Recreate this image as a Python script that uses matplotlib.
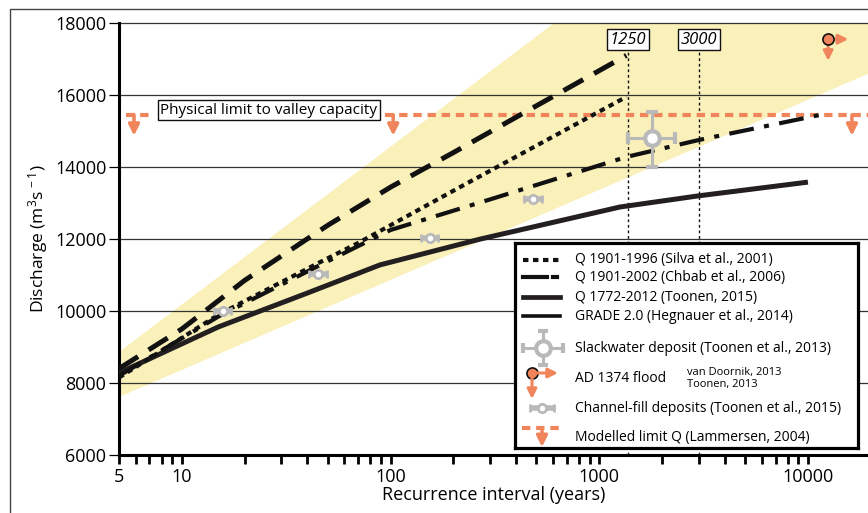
import matplotlib.pyplot as plt
import matplotlib.patches as mpatches
from matplotlib.ticker import FixedLocator, NullFormatter
import numpy as np

plt.rcParams['font.family'] = ['Open Sans', 'DejaVu Sans']
plt.rcParams['mathtext.fontset'] = 'custom'
plt.rcParams['mathtext.rm'] = 'Open Sans'
plt.rcParams['mathtext.it'] = 'Open Sans:italic'

# uncertainty envelope (straight in log-x)
band_x = [5, 20000]
band_lo = [7610, 16620]
band_hi = [8860, 24650]

# discharge-frequency curves
grade_x = [5, 10, 20, 50, 100, 200, 500, 1350]
grade_q = [8400, 9500, 10850, 12380, 13440, 14400, 15700, 17100]

silva_x = [5, 15, 45, 70, 215, 1350]
silva_q = [8150, 9900, 11330, 11890, 13440, 15950]

chbab_x = [5, 15, 45, 100, 300, 1350, 3000, 11500]
chbab_q = [8200, 9850, 11250, 12250, 13100, 14280, 14750, 15450]

toonen_x = [5, 15, 40, 89, 270, 1260, 3000, 10000]
toonen_q = [8280, 9560, 10500, 11280, 12000, 12890, 13200, 13580]

# palaeoflood evidence
channel_x = [15.7, 44.9, 154, 482]
channel_q = [10000, 11030, 12030, 13110]
slack_x = 1790
slack_q = 14800
slack_xrange = [1370, 2310]
slack_qrange = [14000, 15530]
flood_x = 12500
flood_q = 17550
flood_x_arrow = 15600
flood_q_arrow = 16950

# modelled limit
limit_q = 15450
limit_segments = [(5.4, 7.2), (94, 19400)]
limit_arrow_x = [5.9, 103, 16250]
limit_arrow_q = 14870

design_rp = [1370, 3000]
design_labels = ['1250', '3000']

orange = '#F0845A'
grey = '#B9B9B9'
black = '#111111'
yellow = '#FAF0B9'

fig = plt.figure(figsize=(8.68, 5.13), dpi=100)
ax = fig.add_axes([119 / 868, 58 / 513, 749 / 868, 432 / 513])

ax.fill_between(band_x, band_lo, band_hi, color=yellow, lw=0, zorder=0)
for q in range(6000, 18001, 2000):
    ax.axhline(q, color='#333333', lw=0.9, zorder=1, clip_on=False)

for x in design_rp:
    ax.plot([x, x], [6000, 17300], color=black, lw=1, ls=(0, (2, 2)), zorder=2)
for x, lab in zip(design_rp, design_labels):
    ax.text(x, 17530, lab, ha='center', va='center', fontsize=12, style='italic',
            bbox=dict(boxstyle='square,pad=0.15', fc='white', ec=black, lw=1), zorder=6)

ax.plot(toonen_x, toonen_q, color='#231F20', lw=3.6, solid_capstyle='butt', zorder=4)
ax.plot(chbab_x, chbab_q, color=black, lw=3, ls=(0, (6, 2.5, 1.2, 2.5)), zorder=4)
ax.plot(silva_x, silva_q, color=black, lw=3, ls=(0, (1.3, 1.1)), zorder=4)
ax.plot(grade_x, grade_q, color=black, lw=3.6, ls=(0, (4.5, 2.5)), zorder=4)

# modelled limit line with downward arrows
for x0, x1 in limit_segments:
    ax.plot([x0, x1], [limit_q, limit_q], color=orange, lw=3, ls=(0, (2, 1.4)), zorder=3)
for x in limit_arrow_x:
    ax.annotate('', xy=(x, limit_arrow_q), xytext=(x, limit_q),
                arrowprops=dict(arrowstyle='-|>', color=orange, lw=2.5, mutation_scale=16,
                                shrinkA=0, shrinkB=0), zorder=5)
ax.text(7.9, limit_q + 130, 'Physical limit to valley capacity', ha='left', va='center', fontsize=11,
        bbox=dict(boxstyle='square,pad=0.15', fc='white', ec=black, lw=1), zorder=6)

# channel-fill deposits
cx = np.array(channel_x)
ax.errorbar(cx, channel_q, xerr=[cx - cx / 1.1, cx * 1.1 - cx], fmt='o', ms=6, mfc='white', mec=grey,
            mew=2, ecolor=grey, elinewidth=4, capsize=3, capthick=2, zorder=5)

# slackwater deposit
ax.errorbar([slack_x], [slack_q],
            xerr=[[slack_x - slack_xrange[0]], [slack_xrange[1] - slack_x]],
            yerr=[[slack_q - slack_qrange[0]], [slack_qrange[1] - slack_q]],
            fmt='o', ms=10.5, mfc='white', mec=grey, mew=3, ecolor=grey, elinewidth=2.2,
            capsize=4, capthick=2, zorder=5)

# AD 1374 flood
for xy in [(flood_x_arrow, flood_q), (flood_x, flood_q_arrow)]:
    ax.annotate('', xy=xy, xytext=(flood_x, flood_q),
                arrowprops=dict(arrowstyle='-|>', color=orange, lw=2.2, mutation_scale=14,
                                shrinkA=0, shrinkB=0), zorder=5)
ax.plot([flood_x], [flood_q], 'o', ms=8, mfc=orange, mec=black, mew=1.2, zorder=6)

ax.set_xscale('log')
ax.set_xlim(5, 19400)
ax.set_ylim(6000, 18000)
ax.set_yticks(range(6000, 18001, 2000))
ax.set_xticks([5, 10, 100, 1000, 10000])
ax.set_xticklabels(['5', '10', '100', '1000', '10000'])
minor = [m * 10 ** e for e in range(0, 5) for m in range(2, 10) if 5 < m * 10 ** e < 19400]
ax.xaxis.set_minor_locator(FixedLocator(minor))
ax.xaxis.set_minor_formatter(NullFormatter())
ax.tick_params(axis='x', which='both', direction='out', length=6.5, width=2, labelsize=13, pad=3)
ax.tick_params(axis='y', direction='out', length=7, width=0.9, labelsize=13, pad=2)
for s in ['top', 'right']:
    ax.spines[s].set_visible(False)
for s in ['left', 'bottom']:
    ax.spines[s].set_linewidth(2.2)
ax.set_xlabel('Recurrence interval (years)', fontsize=13, labelpad=0)
ax.set_ylabel(r'Discharge (m$^{3}$s$^{\,-1}$)', fontsize=12.5, labelpad=4)

# legend box drawn in pixel units
lg = fig.add_axes([515 / 868, 65 / 513, 343 / 868, 205 / 513])
lg.set_xlim(0, 343)
lg.set_ylim(205, 0)
lg.set_xticks([])
lg.set_yticks([])
for s in lg.spines.values():
    s.set_linewidth(2.3)
tx = 60
fs = 10
lg.plot([8, 45], [17, 17], color=black, lw=3, ls=(0, (1.3, 1.1)))
lg.plot([8, 32], [34, 34], color=black, lw=3)
lg.plot([38, 42], [34, 34], color=black, lw=3)
lg.plot([8, 45], [54, 54], color='#231F20', lw=3.4)
lg.plot([8, 45], [73, 73], color=black, lw=2.6)
lg.text(tx, 17, 'Q 1901-1996 (Silva et al., 2001)', va='center', fontsize=fs)
lg.text(tx, 35, 'Q 1901-2002 (Chbab et al., 2006)', va='center', fontsize=fs)
lg.text(tx, 54, 'Q 1772-2012 (Toonen, 2015)', va='center', fontsize=fs)
lg.text(tx, 73, 'GRADE 2.0 (Hegnauer et al., 2014)', va='center', fontsize=fs)

lg.errorbar([28], [105], xerr=20, yerr=17, fmt='o', ms=10.5, mfc='white', mec=grey, mew=3,
            ecolor=grey, elinewidth=2.2, capsize=3.5, capthick=2)
lg.text(tx, 105, 'Slackwater deposit (Toonen et al., 2013)', va='center', fontsize=fs)

lg.annotate('', xy=(43, 130), xytext=(17, 130),
            arrowprops=dict(arrowstyle='-|>', color=orange, lw=2.2, mutation_scale=14, shrinkA=0, shrinkB=0))
lg.annotate('', xy=(17, 156), xytext=(17, 130),
            arrowprops=dict(arrowstyle='-|>', color=orange, lw=2.2, mutation_scale=14, shrinkA=0, shrinkB=0))
lg.plot([17], [130], 'o', ms=8, mfc=orange, mec=black, mew=1.2)
lg.text(tx, 136, 'AD 1374 flood', va='center', fontsize=fs)
lg.text(172, 129, 'van Doornik, 2013', va='center', fontsize=8)
lg.text(172, 142, 'Toonen, 2013', va='center', fontsize=8)

lg.errorbar([27], [165], xerr=12, fmt='o', ms=6, mfc='white', mec=grey, mew=2, ecolor=grey,
            elinewidth=4, capsize=3, capthick=2)
lg.text(tx, 165, 'Channel-fill deposits (Toonen et al., 2015)', va='center', fontsize=fs)

lg.plot([7, 46], [185, 185], color=orange, lw=3, ls=(0, (2, 1.4)))
lg.annotate('', xy=(27, 204), xytext=(27, 185),
            arrowprops=dict(arrowstyle='-|>', color=orange, lw=2.5, mutation_scale=16, shrinkA=0, shrinkB=0))
lg.text(tx, 194, 'Modelled limit Q (Lammersen, 2004)', va='center', fontsize=fs)

# outer frame of the figure panel
fig.patches.append(mpatches.Rectangle((10 / 868, -0.05), 1.0, 1.05 - 9 / 513, transform=fig.transFigure,
                                      fill=False, ec='#444444', lw=1))

fig.savefig('out.png', dpi=100)
